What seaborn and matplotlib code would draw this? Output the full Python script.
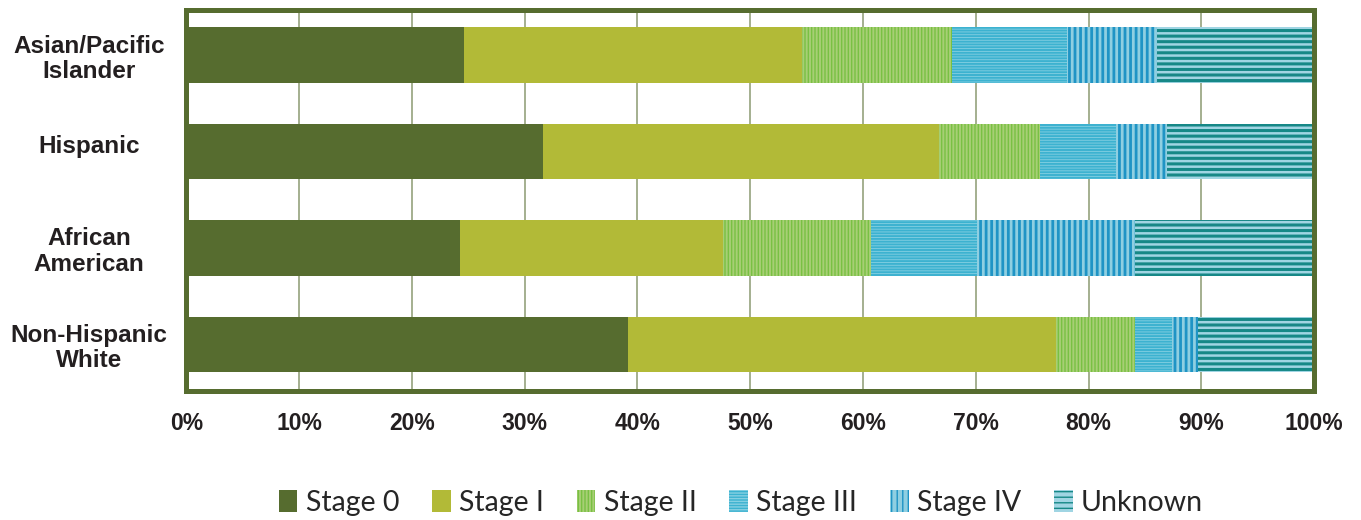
import numpy as np
import pandas as pd
import matplotlib
matplotlib.use("Agg")
import matplotlib.pyplot as plt
import matplotlib.transforms as mtransforms
import seaborn as sns

# Stage distribution (percent of cases) by race/ethnicity
groups = ["Asian/Pacific\nIslander", "Hispanic", "African\nAmerican", "Non-Hispanic\nWhite"]
stages = ["Stage 0", "Stage I", "Stage II", "Stage III", "Stage IV", "Unknown"]
stage0 = [24.6, 31.6, 24.3, 39.2]
stage1 = [30.0, 35.1, 23.3, 37.9]
stage2 = [13.3, 9.0, 13.1, 7.0]
stage3 = [10.2, 6.7, 9.4, 3.3]
stage4 = [8.0, 4.6, 14.0, 2.3]
unknown = [13.9, 13.0, 15.9, 10.3]
tick_values = list(range(0, 101, 10))
tick_labels = [f"{t}%" for t in tick_values]

sns.set_theme(style="white")
plt.rcParams["font.family"] = ["Liberation Sans", "DejaVu Sans"]

face = ["#566c2f", "#b2ba37", "#a7cf75", "#3cb2d0", "#8fcfe1", "#a0d5e3"]
hatch_col = [None, None, "#79c043", "#86d0e2", "#1f94c5", "#168887"]
hatches = [None, None, "|||||", "------", "|||", "---"]
hatch_lw = [1.0, 1.0, 1.0, 0.6, 2.0, 2.2]

values = np.array([stage0, stage1, stage2, stage3, stage4, unknown])
cum = values.cumsum(axis=0)

fig = plt.figure(figsize=(13.61, 5.20), dpi=100)
ax = fig.add_axes([0.1370, 0.2481, 0.8285, 0.7336])

containers = {}
# Stacked bars: draw cumulative totals from the outermost segment inwards
for i in reversed(range(len(stages))):
    df = pd.DataFrame({"group": groups, "value": cum[i]})
    with plt.rc_context({"hatch.linewidth": hatch_lw[i]}):
        sns.barplot(data=df, x="value", y="group", orient="h", color=face[i],
                    saturation=1, width=0.575, ax=ax, linewidth=0, errorbar=None)
        cont = ax.containers[-1]
        for p in cont.patches:
            p.set_facecolor(face[i])
            p.set_linewidth(0)
            if hatches[i]:
                p.set_hatch(hatches[i])
                p.set_edgecolor(hatch_col[i])
                if hasattr(p, "set_hatch_linewidth"):
                    p.set_hatch_linewidth(hatch_lw[i])
    containers[stages[i]] = cont

ax.set_xlim(0, 100)
ax.set_ylim(3.482, -0.4715)
ax.set_xlabel("")
ax.set_ylabel("")
ax.set_xticks(tick_values)
ax.set_xticklabels(tick_labels, fontsize=16.5, fontweight="bold", color="#231f20",
                   family="Liberation Sans")
ax.set_yticks(range(len(groups)))
ax.set_yticklabels(groups, fontsize=17.5, fontweight="bold", color="#231f20",
                   family="Liberation Sans", ha="center", linespacing=1.12)
ax.tick_params(axis="x", length=0, pad=15)
ax.tick_params(axis="y", length=0, pad=70)
ax.grid(axis="x", color="#8c9a72", linewidth=1.1)
ax.grid(axis="y", visible=False)
ax.set_axisbelow(True)

for s in ax.spines.values():
    s.set_visible(True)
    s.set_color("#566c2f")
    s.set_linewidth(3.6)
    s.set_zorder(5)

# Single-line label sits a little above its bar
lbl = ax.yaxis.get_major_ticks()[1].label1
lbl.set_transform(lbl.get_transform() + mtransforms.ScaledTranslation(0, 8 / 100, fig.dpi_scale_trans))

handles = [containers[s] for s in stages]
fig.legend(handles, stages, loc="center", bbox_to_anchor=(741 / 1361, 0.033), ncol=6,
           frameon=False, prop={"family": "Lato", "size": 20.5},
           handlelength=0.65, handleheight=0.85, handletextpad=0.3,
           columnspacing=1.15, borderaxespad=0)

fig.savefig("out.png", dpi=100)
